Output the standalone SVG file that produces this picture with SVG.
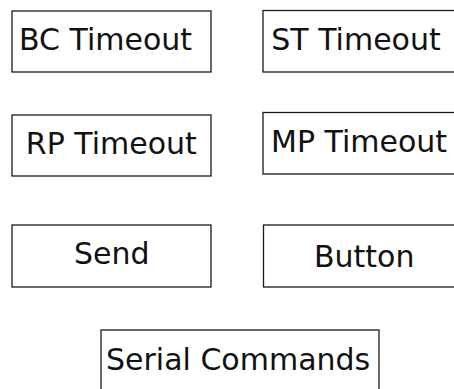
<svg xmlns="http://www.w3.org/2000/svg" width="454" height="389" viewBox="0 0 454 389">
  <style>
    .box { fill: #ffffff; stroke: #1a1a1a; stroke-width: 1.3; }
    .label { font-family: "DejaVu Sans", sans-serif; font-size: 30px; fill: #111111; }
  </style>
  <rect x="0" y="0" width="454" height="389" fill="#ffffff"/>
  <g id="bc-timeout">
    <rect class="box" x="12" y="11" width="199" height="61"/>
    <text class="label" x="19" y="50">BC Timeout</text>
  </g>
  <g id="st-timeout">
    <rect class="box" x="263" y="10.5" width="200" height="61.5"/>
    <text class="label" x="271.3" y="50">ST Timeout</text>
  </g>
  <g id="rp-timeout">
    <rect class="box" x="12" y="115" width="199" height="61"/>
    <text class="label" x="25.8" y="154.3">RP Timeout</text>
  </g>
  <g id="mp-timeout">
    <rect class="box" x="263" y="112.5" width="200" height="61.5"/>
    <text class="label" x="271" y="152.3">MP Timeout</text>
  </g>
  <g id="send">
    <rect class="box" x="12" y="225" width="199" height="62"/>
    <text class="label" x="74" y="264">Send</text>
  </g>
  <g id="button">
    <rect class="box" x="263.5" y="225" width="200" height="62"/>
    <text class="label" x="314" y="267.3">Button</text>
  </g>
  <g id="serial-commands">
    <rect class="box" x="101" y="330" width="278" height="62"/>
    <text class="label" x="106" y="370">Serial Commands</text>
  </g>
  <g id="connectors"/>
</svg>
